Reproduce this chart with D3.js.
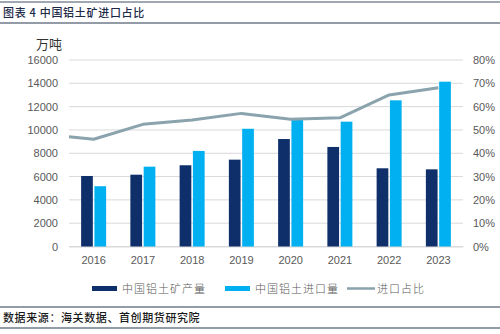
<!DOCTYPE html>
<html><head><meta charset="utf-8">
<script src="https://cdn.jsdelivr.net/npm/d3@7"></script>
<style>
html,body{margin:0;padding:0;background:#fff;}
svg{display:block;}
</style></head>
<body>
<script>
const years = ["2016","2017","2018","2019","2020","2021","2022","2023"];
const production = [6050, 6160, 6970, 7450, 9220, 8540, 6710, 6620];
const imports = [5170, 6850, 8200, 10100, 10950, 10710, 12540, 14140];
const ratio = [46.0, 52.4, 54.3, 57.1, 54.6, 55.2, 65.0, 68.1];
const ratioLeadIn = 47.1; // line begins at plot's left edge
const leftTicks = [0,2000,4000,6000,8000,10000,12000,14000,16000];
const rightTicks = [0,10,20,30,40,50,60,70,80];
const seriesNames = ["中国铝土矿产量","中国铝土进口量","进口占比"];
const colors = ["#0e2f6a","#00b0f0","#8aa3ad"];

const W=500,H=334;
const svg=d3.select("body").append("svg").attr("width",W).attr("height",H);
const L=69,R=463,T=60,B=246.5;

// header
svg.append("line").attr("x1",0).attr("x2",W).attr("y1",2).attr("y2",2).attr("stroke","#7f8a99").attr("stroke-width",1.5);
svg.append("line").attr("x1",0).attr("x2",W).attr("y1",23).attr("y2",23).attr("stroke","#6f7a8a").attr("stroke-width",1.5);
svg.append("text").attr("x",3).attr("y",17).text("图表 4 中国铝土矿进口占比")
  .attr("font-family","Noto Sans CJK SC").attr("font-weight","500").attr("font-size",11).attr("letter-spacing",0.7).attr("fill","#1c2a48");

// footer
svg.append("line").attr("x1",0).attr("x2",W).attr("y1",307).attr("y2",307).attr("stroke","#6f7a8a").attr("stroke-width",1.5);
svg.append("line").attr("x1",0).attr("x2",W).attr("y1",328).attr("y2",328).attr("stroke","#6f7a8a").attr("stroke-width",1.5);
svg.append("text").attr("x",3).attr("y",322).text("数据来源：海关数据、首创期货研究院")
  .attr("font-family","Noto Sans CJK SC").attr("font-weight","500").attr("font-size",11).attr("letter-spacing",0.6).attr("fill","#1a1a1a");

const x=d3.scaleBand().domain(years).range([L,R]).paddingInner(0).paddingOuter(0);
const yL=d3.scaleLinear().domain([0,16000]).range([B,T]);
const yR=d3.scaleLinear().domain([0,80]).range([B,T]);

// gridlines
svg.append("g").selectAll("line").data(leftTicks).join("line")
  .attr("x1",L).attr("x2",R).attr("y1",d=>yL(d)).attr("y2",d=>yL(d))
  .attr("stroke","#d9d9d9").attr("stroke-width",1);

// left axis
const axL=d3.axisLeft(yL).tickValues(leftTicks).tickSize(0).tickPadding(11).tickFormat(d3.format("d"));
const gL=svg.append("g").attr("transform",`translate(${L},0)`).call(axL);
gL.select(".domain").remove();
gL.selectAll("text").attr("font-family","Liberation Sans").attr("font-size",11).attr("fill","#595959");

// right axis
const axR=d3.axisRight(yR).tickValues(rightTicks).tickSize(0).tickPadding(10).tickFormat(d=>d+"%");
const gR=svg.append("g").attr("transform",`translate(${R},0)`).call(axR);
gR.select(".domain").remove();
gR.selectAll("text").attr("font-family","Liberation Sans").attr("font-size",11).attr("fill","#595959");

// bottom axis
const axB=d3.axisBottom(x).tickSize(0).tickPadding(10);
const gB=svg.append("g").attr("transform",`translate(0,${B})`).call(axB);
gB.select(".domain").attr("stroke","#d9d9d9");
gB.selectAll("text").attr("font-family","Liberation Sans").attr("font-size",11).attr("fill","#595959");

// unit
svg.append("text").attr("x",36).attr("y",49).text("万吨")
  .attr("font-family","Noto Sans CJK SC").attr("font-size",13).attr("fill","#333");

// bars
const bw=11, gap=3;
const sub=d3.scaleBand().domain([0,1]).range([0,bw*2+gap]).paddingInner(gap/(bw*2+gap));
const g0=(x.bandwidth()-(bw*2+gap))/2;
svg.append("g").selectAll("rect").data(production).join("rect")
  .attr("x",(d,i)=>x(years[i])+g0+sub(0)).attr("width",sub.bandwidth())
  .attr("y",d=>yL(d)).attr("height",d=>B-yL(d)).attr("fill",colors[0]);
svg.append("g").selectAll("rect").data(imports).join("rect")
  .attr("x",(d,i)=>x(years[i])+g0+sub(1)).attr("width",sub.bandwidth())
  .attr("y",d=>yL(d)).attr("height",d=>B-yL(d)).attr("fill",colors[1]);

// line
const pts=[[x.range()[0],yR(ratioLeadIn)]].concat(ratio.map((v,i)=>[x(years[i])+x.bandwidth()/2,yR(v)]));
svg.append("path").attr("d",d3.line()(pts)).attr("fill","none")
  .attr("stroke",colors[2]).attr("stroke-width",3).attr("stroke-linejoin","round");

// legend
const lg=svg.append("g");
const items=[{x:92,type:"rect"},{x:225,type:"rect"},{x:347,type:"line"}];
items.forEach((it,i)=>{
  if(it.type==="rect"){
    lg.append("rect").attr("x",it.x).attr("y",286).attr("width",25).attr("height",5).attr("fill",colors[i]);
  } else {
    lg.append("line").attr("x1",it.x).attr("x2",it.x+28).attr("y1",288.5).attr("y2",288.5).attr("stroke",colors[i]).attr("stroke-width",2.5);
  }
  lg.append("text").attr("x",it.x+30).attr("y",292.5).text(seriesNames[i])
    .attr("font-family","Noto Sans CJK SC").attr("font-weight","300").attr("font-size",11).attr("letter-spacing",1).attr("fill","#595959");
});
</script>
</body></html>
